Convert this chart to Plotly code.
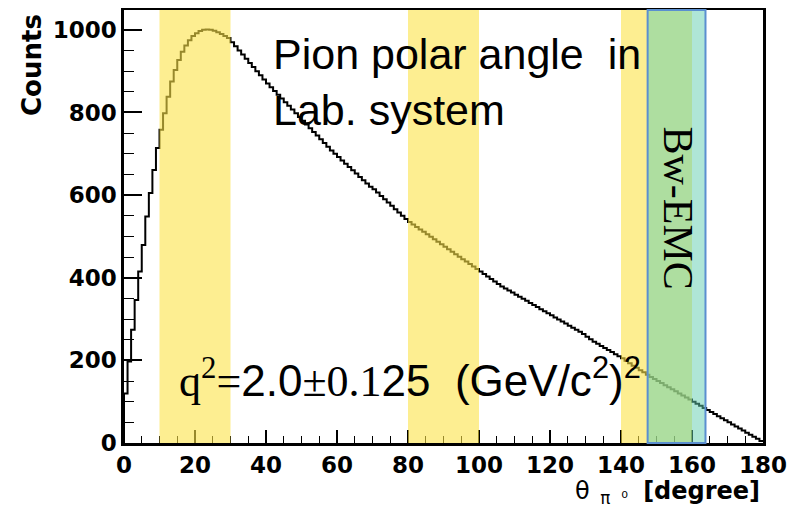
import plotly.graph_objects as go

# ---- data ----
bin_edges_start = list(range(0, 180))  # 1-degree bins, left edges
counts = [
    120, 197, 274, 346, 415, 479, 548, 605, 661, 714,
    758, 798, 838, 875, 903, 927, 947, 962, 975, 985,
    992, 997, 1000, 1001, 1000, 998, 994, 990, 985, 980,
    970, 960, 950, 940, 930, 920, 910, 900, 890, 880,
    870, 861, 852, 843, 834, 825, 816, 807, 798, 789,
    780, 771, 762, 753, 744, 735, 726, 717, 708, 700,
    692, 684, 676, 668, 660, 652, 644, 636, 628, 620,
    614, 606, 598, 590, 582, 574, 566, 558, 550, 542,
    535, 529, 523, 517, 511, 505, 499, 493, 487, 481,
    475, 469, 463, 457, 451, 445, 439, 433, 427, 421,
    415, 409, 403, 397, 391, 385, 379, 374, 369, 364,
    359, 354, 349, 344, 339, 334, 329, 324, 319, 314,
    309, 304, 299, 294, 289, 284, 279, 274, 269, 264,
    257, 251, 245, 240, 235, 230, 225, 220, 215, 210,
    205, 199, 193, 187, 182, 176, 171, 165, 160, 155,
    150, 145, 140, 135, 130, 125, 120, 115, 110, 105,
    100, 95, 90, 85, 80, 75, 70, 65, 60, 55,
    50, 45, 40, 35, 30, 25, 20, 15, 10, 5,
]
yellow_bands = [(10, 30), (80, 100), (140, 160)]
emc_band = (147.5, 163.8)
x_ticks = [0, 20, 40, 60, 80, 100, 120, 140, 160, 180]
y_ticks = [0, 200, 400, 600, 800, 1000]

# histogram outline as step line
xs = [bin_edges_start[0]] + bin_edges_start + [bin_edges_start[-1] + 1]
ys = [0] + counts + [counts[-1]]

fig = go.Figure()
fig.add_trace(go.Scatter(x=xs, y=ys, mode="lines", line=dict(color="black", width=2, shape="hv"),
                         hoverinfo="skip", showlegend=False))

shapes = []
for a, b in yellow_bands:
    shapes.append(dict(type="rect", xref="x", yref="paper", x0=a, x1=b, y0=0, y1=1,
                       fillcolor="rgb(252,227,72)", opacity=0.6, line=dict(width=0), layer="above"))
shapes.append(dict(type="rect", xref="x", yref="paper", x0=emc_band[0], x1=emc_band[1], y0=0, y1=1,
                   fillcolor="rgb(95,205,175)", opacity=0.5, line=dict(width=0), layer="above"))
shapes.append(dict(type="rect", xref="x", yref="paper", x0=emc_band[0], x1=emc_band[1], y0=0, y1=1,
                   fillcolor="rgba(0,0,0,0)", line=dict(color="#5b8fd0", width=2), layer="above"))

tickfont = dict(family="DejaVu Sans", size=23, color="black", weight="bold")
SERIF = "font-family:Liberation Serif"

annotations = [
    dict(text="<b>Counts</b>", xref="paper", yref="paper", x=-0.144, y=0.873, textangle=-90,
         showarrow=False, font=dict(family="DejaVu Sans", size=26, color="black"),
         xanchor="center", yanchor="middle"),
    dict(text="θ<sub>  π  ⁰</sub>  <b>[degree]</b>", xref="paper", yref="paper", x=0.999, y=-0.115,
         showarrow=False, font=dict(family="DejaVu Sans", size=24, color="black"),
         xanchor="right", yanchor="middle"),
    dict(text="Pion polar angle  in", xref="x", yref="y", x=41.4, y=942, showarrow=False,
         font=dict(family="Liberation Sans", size=43, color="black"), xanchor="left", yanchor="middle"),
    dict(text="Lab. system", xref="x", yref="y", x=41.4, y=806, showarrow=False,
         font=dict(family="Liberation Sans", size=43, color="black"), xanchor="left", yanchor="middle"),
    dict(text=(f"<span style='{SERIF}'>q<sup>2</sup>=</span>2.0"
               f"<span style='{SERIF}'>±0.1</span>25  (GeV/c<sup>2</sup>)<sup>2</sup>"),
         xref="x", yref="y", x=14.9, y=158, showarrow=False,
         font=dict(family="Liberation Sans", size=44, color="black"), xanchor="left", yanchor="middle"),
    dict(text="Bw-EMC", xref="x", yref="y", x=156.0, y=568, textangle=90, showarrow=False,
         font=dict(family="Liberation Serif", size=42, color="black"), xanchor="center", yanchor="middle"),
]

fig.update_layout(
    width=788, height=505,
    margin=dict(l=116, r=33, t=2, b=70, autoexpand=False),
    paper_bgcolor="white", plot_bgcolor="white",
    shapes=shapes, annotations=annotations,
    xaxis=dict(range=[0, 180], tickvals=x_ticks, ticks="inside", ticklen=13, tickwidth=1.5,
               tickcolor="black", showgrid=False, zeroline=False, showline=True, linecolor="black",
               linewidth=2.5, mirror=True, tickfont=tickfont,
               minor=dict(dtick=5, ticks="inside", ticklen=7, tickwidth=1.2, tickcolor="black")),
    yaxis=dict(range=[0, 1048], tickvals=y_ticks, ticks="inside", ticklen=18, tickwidth=1.5,
               tickcolor="black", showgrid=False, zeroline=False, showline=True, linecolor="black",
               linewidth=2.5, mirror=True, tickfont=tickfont,
               minor=dict(dtick=50, ticks="inside", ticklen=10, tickwidth=1.2, tickcolor="black")),
)

fig.write_html("out.html")
